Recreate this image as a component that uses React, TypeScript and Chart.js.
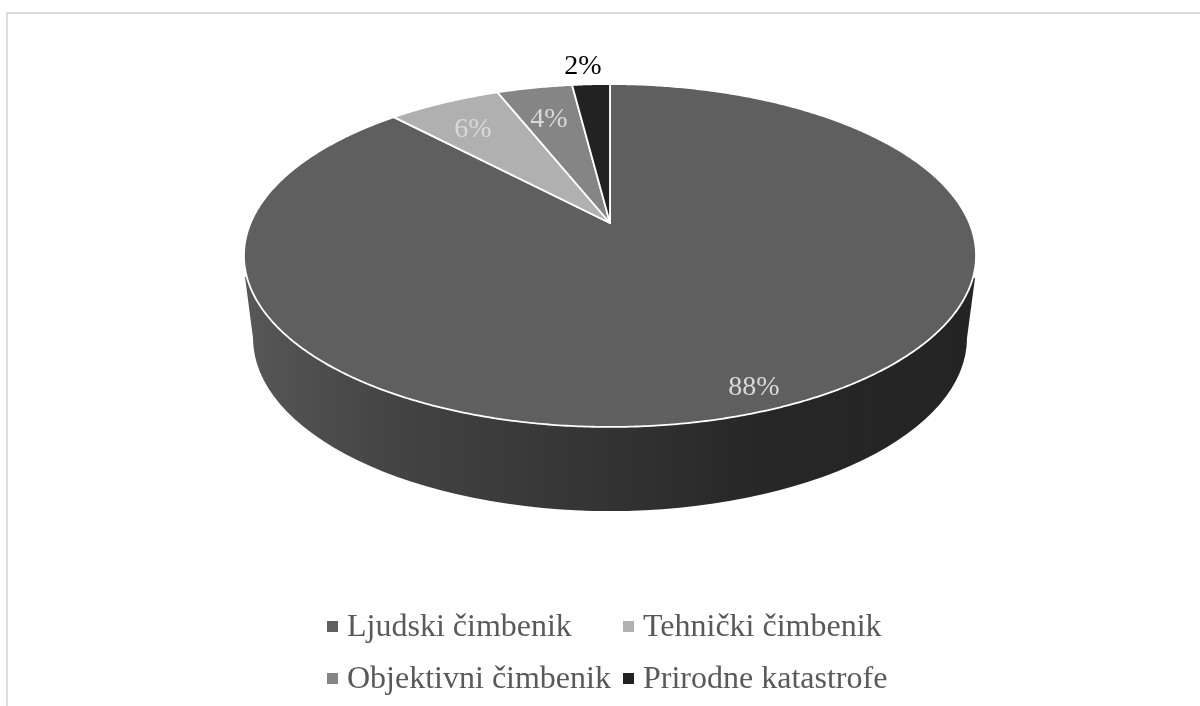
import React, { useEffect, useRef } from "react";
import { Chart, registerables } from "chart.js";

Chart.register(...registerables);

const categories = ["Ljudski čimbenik", "Tehnički čimbenik", "Objektivni čimbenik", "Prirodne katastrofe"];
const shares = [88, 6, 4, 2];
const sliceColors = ["#5f5f5f", "#b0b0b0", "#858585", "#222222"];
const labelColors = ["#d9d9d9", "#d9d9d9", "#d9d9d9", "#000000"];

const FONT = '"Liberation Serif", "Times New Roman", serif';
const APEX = { x: 610, y: 223 };
const PROJ = { a: 359.4, b: 165.3, k: 0.1895 };
const BOTTOM = { x: 610, y: 338, rx: 357, ry: 173 };
const RIM_LEFT = { x: 245, y: 277 };
const RIM_RIGHT = { x: 975, y: 278 };
const LABEL_POS = [
  { x: 754, y: 395 },
  { x: 473, y: 137 },
  { x: 549, y: 127 },
  { x: 583, y: 74 },
];
const LEGEND_MARKS = [327, 623];
const LEGEND_TEXT = [347, 643];
const LEGEND_BASE = [636, 688];

// Perspective projection of a pie angle (Chart.js radians) on the tilted disc
function project(angle: number) {
  const u = Math.cos(angle);
  const v = Math.sin(angle);
  const w = 1 - PROJ.k * v;
  return { x: APEX.x + (PROJ.a * u) / w, y: APEX.y + (PROJ.b * v) / w };
}

const tiltedPie = {
  id: "tiltedPie",
  beforeDatasetsDraw(chart: any) {
    const ctx = chart.ctx as CanvasRenderingContext2D;
    const arcs = chart.getDatasetMeta(0).data;

    // side wall
    const grad = ctx.createLinearGradient(245, 0, 976, 0);
    grad.addColorStop(0, "#575757");
    grad.addColorStop(0.21, "#434343");
    grad.addColorStop(0.5, "#333333");
    grad.addColorStop(0.7, "#272727");
    grad.addColorStop(1, "#242424");
    ctx.save();
    ctx.beginPath();
    ctx.moveTo(RIM_LEFT.x, RIM_LEFT.y);
    ctx.lineTo(BOTTOM.x - BOTTOM.rx, BOTTOM.y);
    ctx.ellipse(BOTTOM.x, BOTTOM.y, BOTTOM.rx, BOTTOM.ry, 0, Math.PI, 0, true);
    ctx.lineTo(RIM_RIGHT.x, RIM_RIGHT.y);
    ctx.lineTo(APEX.x, APEX.y);
    ctx.closePath();
    ctx.fillStyle = grad;
    ctx.fill();

    // top face
    arcs.forEach((arc: any, i: number) => {
      const { startAngle, endAngle } = arc.getProps(["startAngle", "endAngle"], true);
      ctx.beginPath();
      ctx.moveTo(APEX.x, APEX.y);
      const steps = Math.max(8, Math.ceil((endAngle - startAngle) * 120));
      for (let s = 0; s <= steps; s++) {
        const p = project(startAngle + ((endAngle - startAngle) * s) / steps);
        ctx.lineTo(p.x, p.y);
      }
      ctx.closePath();
      ctx.fillStyle = sliceColors[i];
      ctx.fill();
      ctx.lineWidth = 1.8;
      ctx.strokeStyle = "#ffffff";
      ctx.lineJoin = "round";
      ctx.stroke();
    });
    ctx.restore();
    return false;
  },
  afterDraw(chart: any) {
    const ctx = chart.ctx as CanvasRenderingContext2D;
    ctx.save();
    // data labels
    ctx.font = `28px ${FONT}`;
    ctx.textAlign = "center";
    ctx.textBaseline = "alphabetic";
    chart.data.datasets[0].data.forEach((v: number, i: number) => {
      ctx.fillStyle = labelColors[i];
      ctx.fillText(`${v}%`, LABEL_POS[i].x, LABEL_POS[i].y);
    });
    // legend
    ctx.textAlign = "left";
    ctx.font = `32px ${FONT}`;
    chart.data.labels.forEach((label: string, i: number) => {
      const col = i % 2;
      const base = LEGEND_BASE[Math.floor(i / 2)];
      ctx.fillStyle = sliceColors[i];
      ctx.fillRect(LEGEND_MARKS[col], base - 15, 11, 11);
      ctx.fillStyle = "#595959";
      ctx.fillText(label, LEGEND_TEXT[col], base);
    });
    ctx.restore();
  },
};

export default function App() {
  const ref = useRef<HTMLCanvasElement>(null);
  useEffect(() => {
    document.body.style.margin = "0";
    const chart = new Chart(ref.current!, {
      type: "pie",
      data: {
        labels: categories,
        datasets: [{ data: shares, backgroundColor: sliceColors, borderColor: "#ffffff" }],
      },
      options: {
        responsive: false,
        animation: false,
        devicePixelRatio: 1,
        plugins: { legend: { display: false }, tooltip: { enabled: false } },
      },
      plugins: [tiltedPie],
    });
    return () => chart.destroy();
  }, []);
  return (
    <div style={{ position: "relative", width: 1200, height: 706, overflow: "hidden", background: "#fff" }}>
      <div
        style={{
          position: "absolute",
          left: 6,
          top: 12,
          width: 1300,
          height: 900,
          border: "2px solid #dcdcdc",
        }}
      />
      <canvas ref={ref} width={1200} height={706} style={{ position: "absolute", left: 0, top: 0, display: "block" }} />
    </div>
  );
}
